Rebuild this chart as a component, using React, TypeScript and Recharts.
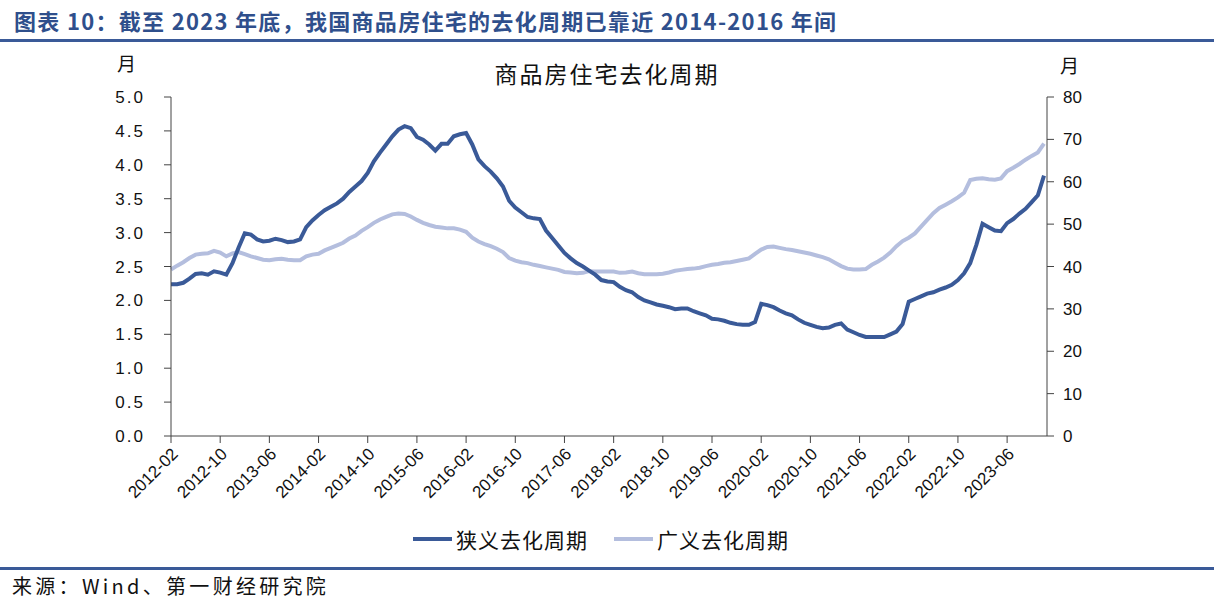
import React from 'react';
import { LineChart, Line, XAxis, YAxis } from 'recharts';

// monthly, 2012-02 .. 2023-12
const narrowCycle = [
  2.24, 2.24, 2.26, 2.32, 2.39, 2.40, 2.38, 2.43, 2.41, 2.38,
  2.55, 2.78, 2.99, 2.97, 2.90, 2.87, 2.88, 2.91, 2.89, 2.86,
  2.87, 2.90, 3.08, 3.18, 3.26, 3.33, 3.38, 3.43, 3.50, 3.60,
  3.68, 3.76, 3.88, 4.05, 4.18, 4.30, 4.42, 4.52, 4.57, 4.54,
  4.41, 4.37, 4.30, 4.21, 4.31, 4.31, 4.42, 4.45, 4.47, 4.30,
  4.08, 3.98, 3.90, 3.80, 3.68, 3.47, 3.37, 3.30, 3.23, 3.21,
  3.20, 3.03, 2.92, 2.81, 2.70, 2.62, 2.55, 2.50, 2.44, 2.38,
  2.30, 2.28, 2.27, 2.20, 2.15, 2.12, 2.05, 2.00, 1.97, 1.94,
  1.92, 1.90, 1.87, 1.88, 1.88, 1.84, 1.81, 1.78, 1.73, 1.72,
  1.70, 1.67, 1.65, 1.64, 1.64, 1.68, 1.95, 1.93, 1.90, 1.85,
  1.81, 1.78, 1.72, 1.67, 1.64, 1.61, 1.59, 1.60, 1.64, 1.66,
  1.57, 1.53, 1.49, 1.46, 1.46, 1.46, 1.46, 1.50, 1.54, 1.65,
  1.98, 2.02, 2.06, 2.10, 2.12, 2.16, 2.19, 2.23, 2.30, 2.40,
  2.55, 2.82, 3.13, 3.08, 3.03, 3.02, 3.14, 3.20, 3.28, 3.35,
  3.45, 3.55, 3.84,
];

const broadCycle = [
  39.3, 40.2, 41.0, 42.0, 42.8, 43.0, 43.1, 43.7, 43.3, 42.4,
  43.1, 43.4, 42.9, 42.4, 42.0, 41.6, 41.5, 41.7, 41.8, 41.6,
  41.5, 41.5, 42.4, 42.8, 43.0, 43.8, 44.4, 45.0, 45.6, 46.6,
  47.3, 48.4, 49.3, 50.3, 51.1, 51.7, 52.3, 52.5, 52.4, 51.8,
  51.0, 50.3, 49.8, 49.4, 49.2, 49.0, 49.0, 48.7, 48.2, 46.8,
  45.9, 45.3, 44.8, 44.2, 43.4, 42.0, 41.4, 41.0, 40.8, 40.4,
  40.1, 39.8, 39.5, 39.2, 38.7, 38.6, 38.4, 38.5, 38.9, 38.8,
  38.8, 38.8, 38.8, 38.5, 38.6, 38.8, 38.4, 38.2, 38.2, 38.2,
  38.3, 38.6, 39.0, 39.2, 39.4, 39.5, 39.7, 40.1, 40.4, 40.6,
  40.9, 41.0, 41.3, 41.6, 41.9, 43.0, 44.0, 44.6, 44.7, 44.4,
  44.1, 43.9, 43.6, 43.3, 43.0, 42.6, 42.2, 41.7, 40.9, 40.1,
  39.5, 39.3, 39.3, 39.4, 40.4, 41.2, 42.1, 43.3, 44.8, 46.0,
  46.8, 47.8, 49.4, 51.0, 52.6, 53.8, 54.6, 55.4, 56.3, 57.4,
  60.4, 60.7, 60.8, 60.6, 60.5, 60.8, 62.5, 63.3, 64.2, 65.2,
  66.1, 66.9, 69.0,
];

const leftTicks = [0, 0.5, 1, 1.5, 2, 2.5, 3, 3.5, 4, 4.5, 5];
const rightTicks = [0, 10, 20, 30, 40, 50, 60, 70, 80];

const months = narrowCycle.map((_, i) => {
  const m = 1 + i; // 0 -> 2012-02
  const year = 2012 + Math.floor(m / 12);
  const month = (m % 12) + 1;
  return `${year}-${String(month).padStart(2, '0')}`;
});

const data = months.map((month, i) => ({
  month,
  narrow: narrowCycle[i],
  broad: broadCycle[i],
}));

const DARK = '#3A5A98';
const LIGHT = '#B4BEDE';
const AXIS = '#444';
const TICK_FONT = '"Liberation Sans", Arial, sans-serif';
const CJK = '"Noto Sans CJK SC", sans-serif';

const XTick = (props: any) => {
  const { x, y, payload } = props;
  const ax = x + 8;
  const ay = y + 10;
  return (
    <text
      x={ax}
      y={ay}
      transform={`rotate(-45, ${ax}, ${ay})`}
      textAnchor="end"
      fontSize={17}
      fontFamily={TICK_FONT}
      fill="#111"
    >
      {payload.value}
    </text>
  );
};

export default function App() {
  return (
    <div style={{ position: 'absolute', left: 0, top: 0, width: 1214, height: 606, background: '#fff', overflow: 'hidden' }}>
      {/* header */}
      <div style={{ position: 'absolute', left: 14, top: 4, fontFamily: CJK, fontWeight: 700, fontSize: 22, letterSpacing: 1.3, color: '#2F4F8C', whiteSpace: 'nowrap' }}>
        图表 10：截至 2023 年底，我国商品房住宅的去化周期已靠近 2014-2016 年间
      </div>
      <div style={{ position: 'absolute', left: 0, top: 39, width: 1214, height: 3, background: DARK }} />

      <div style={{ position: 'absolute', left: 0, top: 56, width: 1214, paddingLeft: 0, textAlign: 'center', fontFamily: CJK, fontSize: 23, letterSpacing: 2, color: '#111' }}>
        商品房住宅去化周期
      </div>
      <div style={{ position: 'absolute', left: 117, top: 49, fontFamily: CJK, fontSize: 19, color: '#111' }}>月</div>
      <div style={{ position: 'absolute', left: 1060, top: 51, fontFamily: CJK, fontSize: 19, color: '#111' }}>月</div>

      <div style={{ position: 'absolute', left: 0, top: 0 }}>
        <LineChart width={1214} height={606} data={data} margin={{ top: 97, right: 107, left: 0, bottom: 100 }}>
          <XAxis
            dataKey="month"
            interval={7}
            tick={<XTick />}
            tickSize={7}
            height={70}
            padding={{ left: 0, right: 3 }}
            axisLine={{ stroke: AXIS }}
            tickLine={{ stroke: AXIS }}
          />
          <YAxis
            yAxisId="left"
            orientation="left"
            width={171}
            domain={[0, 5]}
            ticks={leftTicks}
            tickFormatter={(v: number) => v.toFixed(1)}
            tickSize={7}
            tickMargin={19}
            tick={{ fontSize: 17, fill: '#111', fontFamily: TICK_FONT, letterSpacing: 2 }}
            axisLine={{ stroke: AXIS }}
            tickLine={{ stroke: AXIS }}
          />
          <YAxis
            yAxisId="right"
            orientation="right"
            width={60}
            domain={[0, 80]}
            ticks={rightTicks}
            tickSize={7}
            tickMargin={9}
            tick={{ fontSize: 17, fill: '#111', fontFamily: TICK_FONT }}
            axisLine={{ stroke: AXIS }}
            tickLine={{ stroke: AXIS }}
          />
          <Line
            yAxisId="right"
            type="linear"
            dataKey="broad"
            name="广义去化周期"
            stroke={LIGHT}
            strokeWidth={4}
            dot={false}
            isAnimationActive={false}
          />
          <Line
            yAxisId="left"
            type="linear"
            dataKey="narrow"
            name="狭义去化周期"
            stroke={DARK}
            strokeWidth={4}
            dot={false}
            isAnimationActive={false}
          />
        </LineChart>
      </div>

      {/* legend */}
      <div style={{ position: 'absolute', left: 413, top: 524, display: 'flex', alignItems: 'center', fontFamily: CJK, fontSize: 21, letterSpacing: 1, color: '#111', whiteSpace: 'nowrap' }}>
        <span style={{ display: 'inline-block', width: 39, height: 4, background: DARK, marginRight: 4 }} />
        <span>狭义去化周期</span>
        <span style={{ display: 'inline-block', width: 39, height: 4, background: LIGHT, marginLeft: 26, marginRight: 4 }} />
        <span>广义去化周期</span>
      </div>

      {/* footer */}
      <div style={{ position: 'absolute', left: 0, top: 567, width: 1214, height: 3, background: DARK }} />
      <div style={{ position: 'absolute', left: 12, top: 571, fontFamily: '"Noto Sans CJK SC", serif', fontSize: 20, color: '#111', letterSpacing: 3.3, whiteSpace: 'nowrap' }}>
        来源：Wind、第一财经研究院
      </div>
    </div>
  );
}
